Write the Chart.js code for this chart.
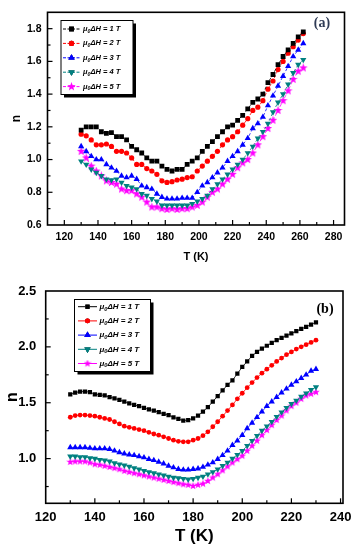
<!DOCTYPE html>
<html>
<head>
<meta charset="utf-8">
<script src="https://cdn.jsdelivr.net/npm/chart.js@4.4.0/dist/chart.umd.min.js"></script>
<style>
  html, body { margin: 0; padding: 0; background: #fff; }
  canvas { position: absolute; left: 0; }
  #chartA { top: 0; }
  #chartB { top: 270px; }
</style>
</head>
<body>
<canvas id="chartA" width="359" height="270"></canvas>
<canvas id="chartB" width="359" height="280"></canvas>
<script>
// --- panel (a) ---
const tempA = [130,133,136,139,142,145,148,151,154,157,160,163,166,169,172,175,178,181,184,187,190,193,196,199,202,205,208,211,214,217,220,223,226,229,232,235,238,241,244,247,250,253,256,259,262];
const n1A = [1.18,1.20,1.20,1.20,1.17,1.16,1.165,1.14,1.14,1.12,1.08,1.06,1.04,1.01,0.99,0.99,0.96,0.94,0.93,0.94,0.94,0.97,0.99,1.01,1.05,1.08,1.11,1.14,1.17,1.20,1.21,1.24,1.27,1.31,1.35,1.37,1.40,1.47,1.52,1.58,1.63,1.67,1.71,1.75,1.78];
const n2A = [1.155,1.145,1.12,1.09,1.09,1.095,1.08,1.05,1.05,1.04,1.01,0.97,0.97,0.945,0.93,0.91,0.87,0.86,0.865,0.875,0.88,0.89,0.895,0.93,0.96,0.99,1.02,1.05,1.09,1.12,1.14,1.17,1.21,1.25,1.30,1.32,1.36,1.43,1.48,1.55,1.60,1.65,1.69,1.73,1.77];
const n3A = [1.08,1.05,1.02,1.00,1.00,0.97,0.95,0.93,0.90,0.89,0.90,0.88,0.84,0.83,0.82,0.79,0.77,0.76,0.76,0.76,0.765,0.765,0.765,0.80,0.84,0.86,0.89,0.92,0.95,0.99,1.02,1.05,1.09,1.13,1.19,1.22,1.26,1.33,1.39,1.45,1.51,1.57,1.63,1.67,1.71];
const n4A = [0.99,0.97,0.94,0.92,0.90,0.88,0.875,0.88,0.86,0.84,0.83,0.82,0.79,0.78,0.76,0.745,0.72,0.72,0.72,0.72,0.72,0.72,0.73,0.745,0.76,0.78,0.82,0.85,0.88,0.91,0.94,0.97,1.00,1.04,1.08,1.13,1.17,1.22,1.29,1.35,1.40,1.46,1.53,1.58,1.61];
const n5A = [1.05,1.01,0.96,0.93,0.90,0.87,0.86,0.85,0.82,0.81,0.81,0.79,0.77,0.74,0.71,0.71,0.70,0.695,0.70,0.695,0.70,0.70,0.71,0.72,0.74,0.77,0.80,0.82,0.85,0.88,0.91,0.95,0.98,1.00,1.04,1.09,1.14,1.19,1.24,1.30,1.36,1.42,1.49,1.54,1.56];
const xTicksA = [120,140,160,180,200,220,240,260,280];
const yTicksA = [0.6,0.8,1.0,1.2,1.4,1.6,1.8];

// --- panel (b) ---
const tempB = [130,132,134,136,138,140,142,144,146,148,150,152,154,156,158,160,162,164,166,168,170,172,174,176,178,180,182,184,186,188,190,192,194,196,198,200,202,204,206,208,210,212,214,216,218,220,222,224,226,228,230];
const n1B = [1.575,1.59,1.60,1.60,1.595,1.575,1.57,1.565,1.55,1.54,1.525,1.51,1.495,1.48,1.47,1.455,1.44,1.43,1.415,1.40,1.39,1.37,1.355,1.34,1.345,1.36,1.385,1.42,1.46,1.51,1.56,1.61,1.66,1.70,1.76,1.82,1.87,1.92,1.955,1.985,2.01,2.035,2.06,2.08,2.10,2.12,2.14,2.16,2.18,2.20,2.22];
const n2B = [1.37,1.385,1.39,1.39,1.385,1.38,1.37,1.36,1.35,1.33,1.31,1.29,1.28,1.27,1.26,1.25,1.235,1.22,1.21,1.195,1.18,1.165,1.155,1.15,1.15,1.165,1.18,1.205,1.24,1.285,1.33,1.38,1.43,1.48,1.535,1.585,1.635,1.68,1.725,1.765,1.80,1.835,1.87,1.90,1.93,1.955,1.98,2.00,2.02,2.04,2.06];
const n3B = [1.10,1.10,1.10,1.10,1.095,1.09,1.09,1.09,1.085,1.07,1.055,1.045,1.035,1.03,1.02,1.01,0.995,0.985,0.97,0.955,0.935,0.92,0.905,0.90,0.90,0.905,0.91,0.925,0.945,0.965,0.995,1.03,1.07,1.12,1.16,1.21,1.27,1.32,1.37,1.42,1.47,1.51,1.55,1.59,1.625,1.66,1.69,1.72,1.75,1.785,1.80];
const n4B = [1.02,1.02,1.015,1.015,1.005,1.00,0.99,0.985,0.975,0.96,0.95,0.94,0.93,0.915,0.905,0.89,0.88,0.87,0.86,0.85,0.84,0.83,0.825,0.82,0.815,0.82,0.83,0.84,0.86,0.88,0.905,0.935,0.965,1.00,1.035,1.07,1.115,1.16,1.205,1.25,1.29,1.33,1.375,1.415,1.455,1.49,1.52,1.555,1.585,1.615,1.64];
const n5B = [0.97,0.975,0.975,0.975,0.965,0.95,0.945,0.935,0.925,0.915,0.905,0.89,0.88,0.87,0.86,0.85,0.84,0.83,0.82,0.81,0.80,0.79,0.78,0.77,0.765,0.755,0.765,0.775,0.80,0.83,0.86,0.895,0.93,0.965,0.995,1.025,1.07,1.115,1.16,1.21,1.255,1.30,1.345,1.385,1.43,1.47,1.50,1.535,1.565,1.58,1.595];
const xTicksB = [120,140,160,180,200,220,240];
const yTicksB = [1.0,1.5,2.0,2.5];

const fieldLabels = ['1', '2', '3', '4', '5'];
const colors = ['#000000', '#ff0000', '#0000ff', '#008080', '#ff00ff'];

Chart.defaults.font.family = '"Liberation Sans", Arial, sans-serif';
Chart.defaults.color = '#000';

// filled five point star used as marker
function makeStar(size, color) {
  const c = document.createElement('canvas');
  c.width = size; c.height = size;
  const g = c.getContext('2d');
  const cx = size / 2, cy = size / 2, ro = size / 2, ri = ro * 0.42;
  g.fillStyle = color;
  g.beginPath();
  for (let i = 0; i < 10; i++) {
    const r = i % 2 ? ri : ro;
    const a = -Math.PI / 2 + i * Math.PI / 5;
    g.lineTo(cx + r * Math.cos(a), cy + r * Math.sin(a));
  }
  g.closePath();
  g.fill();
  return c;
}

function midpoints(arr) {
  const out = [];
  for (let i = 0; i < arr.length - 1; i++) out.push((arr[i] + arr[i + 1]) / 2);
  return out;
}

// box around the plot + inward tick marks
const framePlugin = {
  id: 'frame',
  afterDraw(chart, args, opts) {
    const { ctx, chartArea: a, scales } = chart;
    const x = scales.x, y = scales.y;
    ctx.save();
    ctx.strokeStyle = '#000';
    ctx.lineWidth = 1.2;
    const drawX = (v, len) => {
      const p = x.getPixelForValue(v);
      if (p < a.left + 1 || p > a.right - 1) return;
      ctx.beginPath(); ctx.moveTo(p, a.bottom); ctx.lineTo(p, a.bottom - len); ctx.stroke();
    };
    const drawY = (v, len) => {
      const p = y.getPixelForValue(v);
      if (p < a.top + 1 || p > a.bottom - 1) return;
      ctx.beginPath(); ctx.moveTo(a.left, p); ctx.lineTo(a.left + len, p); ctx.stroke();
    };
    opts.xMajor.forEach(v => drawX(v, 5));
    opts.xMinor.forEach(v => drawX(v, 3));
    opts.yMajor.forEach(v => drawY(v, 5));
    opts.yMinor.forEach(v => drawY(v, 3));
    ctx.lineWidth = 1.6;
    ctx.strokeRect(a.left, a.top, a.right - a.left, a.bottom - a.top);
    // panel letter
    ctx.font = opts.tagFont;
    ctx.fillStyle = opts.tagColor;
    ctx.textAlign = 'center';
    ctx.textBaseline = 'middle';
    ctx.fillText(opts.tag, opts.tagX, opts.tagY);
    ctx.restore();
  }
};

// framed legend with drop shadow, drawn inside the plot
const boxLegendPlugin = {
  id: 'boxLegend',
  afterDraw(chart, args, o) {
    const ctx = chart.ctx;
    ctx.save();
    ctx.fillStyle = '#000';
    ctx.fillRect(o.x + 3, o.y + 3, o.w, o.h);
    ctx.fillStyle = '#fff';
    ctx.fillRect(o.x, o.y, o.w, o.h);
    ctx.strokeStyle = '#000';
    ctx.lineWidth = 1;
    ctx.strokeRect(o.x, o.y, o.w, o.h);
    chart.data.datasets.forEach((ds, i) => {
      const ry = o.rowY + i * o.rowGap;
      ctx.strokeStyle = ds.borderColor;
      ctx.lineWidth = 1;
      ctx.setLineDash(o.dash);
      ctx.beginPath(); ctx.moveTo(o.lineX0, ry); ctx.lineTo(o.lineX1, ry); ctx.stroke();
      ctx.setLineDash([]);
      Chart.helpers.drawPoint(ctx, {
        pointStyle: ds.pointStyle,
        rotation: ds.pointRotation || 0,
        radius: ds.pointRadius,
        borderWidth: 0
      }, (o.lineX0 + o.lineX1) / 2, ry);
      ctx.fillStyle = ds.borderColor;
      if (typeof ds.pointStyle === 'string') {
        ctx.beginPath();
        Chart.helpers.drawPoint(ctx, { pointStyle: ds.pointStyle, rotation: ds.pointRotation || 0, radius: ds.pointRadius, borderWidth: 0 }, (o.lineX0 + o.lineX1) / 2, ry);
        ctx.fill();
      }
      // μ0ΔH = n T, with subscript 0
      const fs = o.fontSize;
      const fam = '"Liberation Sans", Arial, sans-serif';
      ctx.fillStyle = '#000';
      ctx.textBaseline = 'middle';
      ctx.textAlign = 'left';
      let tx = o.textX;
      ctx.font = `italic bold ${fs}px ${fam}`;
      ctx.fillText('μ', tx, ry);
      tx += ctx.measureText('μ').width;
      ctx.font = `italic bold ${fs * 0.7}px ${fam}`;
      ctx.fillText('0', tx, ry + fs * 0.3);
      tx += ctx.measureText('0').width;
      ctx.font = `italic bold ${fs}px ${fam}`;
      ctx.fillText('ΔH = ' + fieldLabels[i] + ' T', tx, ry);
    });
    ctx.restore();
  }
};

function series(xs, ys, i, style, radius, rot, dash, lineW) {
  return {
    label: 'μ₀ΔH = ' + fieldLabels[i] + ' T',
    data: xs.map((x, k) => ({ x: x, y: ys[k] })),
    borderColor: colors[i],
    backgroundColor: colors[i],
    pointBackgroundColor: colors[i],
    pointStyle: style,
    pointRadius: radius,
    pointRotation: rot,
    pointBorderWidth: 0,
    borderWidth: lineW,
    borderDash: dash,
    tension: 0
  };
}

function makeChart(id, cfg) {
  return new Chart(document.getElementById(id), {
    type: 'line',
    data: { datasets: cfg.datasets },
    options: {
      responsive: false,
      animation: false,
      layout: { padding: cfg.pad },
      scales: {
        x: {
          type: 'linear', min: cfg.xMin, max: cfg.xMax,
          afterBuildTicks: s => { s.ticks = cfg.xTicks.map(v => ({ value: v })); },
          afterFit: s => { s.height = cfg.xH; },
          grid: { display: false, drawTicks: false },
          border: { display: false },
          ticks: { padding: cfg.xPad, autoSkip: false, maxRotation: 0, color: '#000',
                   font: { size: cfg.tickSize, weight: 'bold' }, callback: v => String(v) },
          title: { display: true, text: 'T (K)', color: '#000',
                   font: { size: cfg.xTitleSize, weight: 'bold' }, padding: { top: 0, bottom: cfg.xTitlePad } }
        },
        y: {
          type: 'linear', min: cfg.yMin, max: cfg.yMax,
          afterBuildTicks: s => { s.ticks = cfg.yTicks.map(v => ({ value: v })); },
          afterFit: s => { s.width = cfg.yW; },
          grid: { display: false, drawTicks: false },
          border: { display: false },
          ticks: { padding: cfg.yPad, color: '#000',
                   font: { size: cfg.tickSize, weight: 'bold' }, callback: v => v.toFixed(1) },
          title: { display: true, text: 'n', color: '#000',
                   font: { size: cfg.yTitleSize, weight: 'bold' }, padding: { top: cfg.yTitlePad, bottom: 0 } }
        }
      },
      plugins: {
        legend: { display: false },
        tooltip: { enabled: false },
        frame: cfg.frame,
        boxLegend: cfg.legend
      }
    },
    plugins: [framePlugin, boxLegendPlugin]
  });
}

const dashA = [3, 2];
makeChart('chartA', {
  datasets: [
    series(tempA, n1A, 0, 'rect', 3.4, 0, dashA, 0.8),
    series(tempA, n2A, 1, 'circle', 2.6, 0, dashA, 0.8),
    series(tempA, n3A, 2, 'triangle', 3.6, 0, dashA, 0.8),
    series(tempA, n4A, 3, 'triangle', 3.6, 180, dashA, 0.8),
    series(tempA, n5A, 4, makeStar(9, colors[4]), 4.5, 0, dashA, 0.8)
  ],
  pad: { left: 0, right: 14.5, top: 8.5, bottom: 0 },
  xMin: 110, xMax: 286.5, yMin: 0.6, yMax: 1.9,
  xTicks: xTicksA, yTicks: yTicksA,
  xH: 45, yW: 47.5, xPad: 6, yPad: 6,
  tickSize: 10.5, xTitleSize: 11, xTitlePad: 6.5, yTitleSize: 12, yTitlePad: 9.5,
  frame: {
    xMajor: xTicksA, xMinor: midpoints(xTicksA).concat([110]),
    yMajor: yTicksA, yMinor: midpoints(yTicksA),
    tag: '(a)', tagX: 322, tagY: 23, tagFont: 'bold 14px "Liberation Serif", serif', tagColor: '#2f3b55'
  },
  legend: { x: 61, y: 20.5, w: 72, h: 74, rowY: 29, rowGap: 14.4, lineX0: 63, lineX1: 80, textX: 83, fontSize: 7.5, dash: [3, 1.5] }
});

makeChart('chartB', {
  datasets: [
    series(tempB, n1B, 0, 'rect', 3.0, 0, [], 0.8),
    series(tempB, n2B, 1, 'circle', 2.4, 0, [], 0.8),
    series(tempB, n3B, 2, 'triangle', 3.6, 0, [], 0.8),
    series(tempB, n4B, 3, 'triangle', 3.6, 180, [], 0.8),
    series(tempB, n5B, 4, makeStar(8, colors[4]), 4, 0, [], 0.8)
  ],
  pad: { left: 0, right: 16, top: 21, bottom: 0 },
  xMin: 120, xMax: 241, yMin: 0.6, yMax: 2.5,
  xTicks: xTicksB, yTicks: yTicksB,
  xH: 46.7, yW: 45.7, xPad: 6, yPad: 9.5,
  tickSize: 13, xTitleSize: 17, xTitlePad: 3, yTitleSize: 16, yTitlePad: 3,
  frame: {
    xMajor: xTicksB, xMinor: midpoints(xTicksB),
    yMajor: yTicksB, yMinor: midpoints(yTicksB).concat([0.75]),
    tag: '(b)', tagX: 325, tagY: 39.5, tagFont: 'bold 14px "Liberation Serif", serif', tagColor: '#000'
  },
  legend: { x: 74.5, y: 29.5, w: 76, h: 72, rowY: 36.7, rowGap: 14.2, lineX0: 78, lineX1: 97, textX: 99.5, fontSize: 8, dash: [] }
});
</script>
</body>
</html>
